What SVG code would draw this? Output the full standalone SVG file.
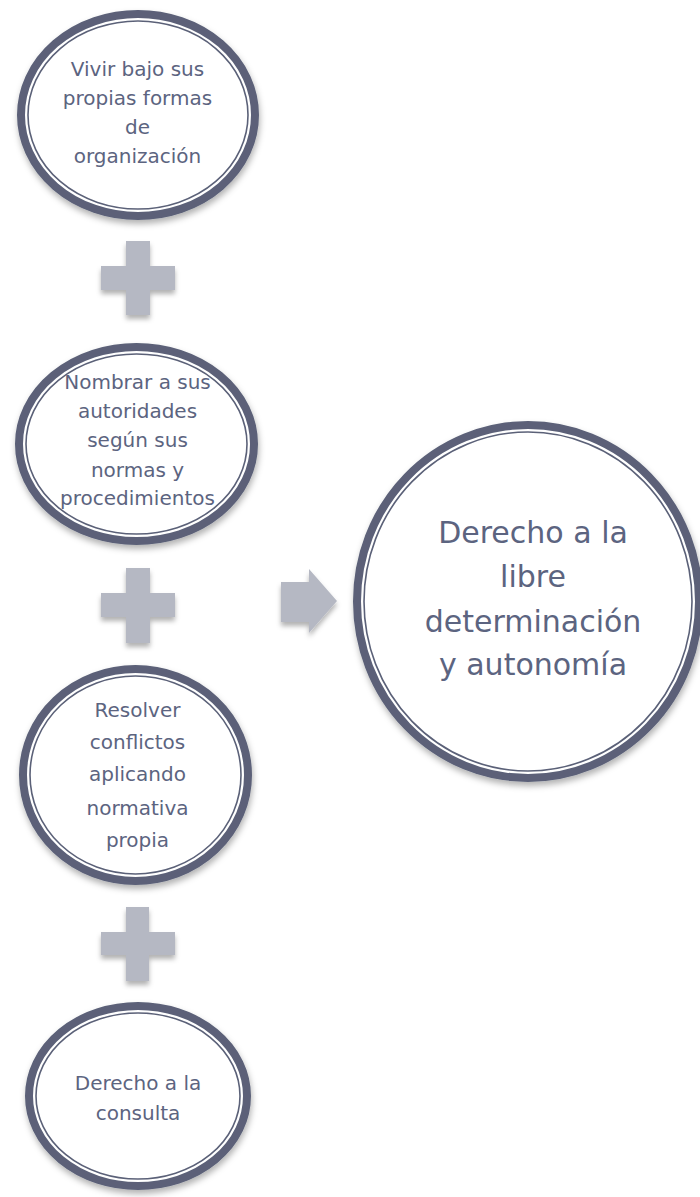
<svg xmlns="http://www.w3.org/2000/svg" width="700" height="1197" viewBox="0 0 700 1197">
<defs>
<filter id="sh" x="-20%" y="-20%" width="140%" height="150%">
<feDropShadow dx="1" dy="4" stdDeviation="3" flood-color="#000" flood-opacity="0.3"/>
</filter>
<filter id="sh2" x="-30%" y="-30%" width="160%" height="160%">
<feDropShadow dx="0" dy="4" stdDeviation="2.5" flood-color="#000" flood-opacity="0.3"/>
</filter>
</defs>
<style>
.ring{fill:#ffffff;stroke:#5b6178;stroke-width:8}
.inner{fill:#ffffff;stroke:#5b6178;stroke-width:1.6}
.t{font-family:"DejaVu Sans",Verdana,sans-serif;font-size:20px;fill:#5c6480;text-anchor:middle}
.tb{font-family:"DejaVu Sans",Verdana,sans-serif;font-size:30px;fill:#5c6480;text-anchor:middle}
.plus{fill:#b5b8c3}
</style>
<rect width="700" height="1197" fill="#ffffff"/>

<g id="connectors">
<path class="plus" filter="url(#sh2)" d="M126,241H150V266H175V290H150V315H126V290H101V266H126Z"/>
<path class="plus" filter="url(#sh2)" d="M126,568H150V593H175V617H150V643H126V617H101V593H126Z"/>
<path class="plus" filter="url(#sh2)" d="M126,907H149V932H175V955H149V981H126V955H101V932H126Z"/>
<path class="plus" filter="url(#sh2)" d="M281,582H309V569L337,601L309,633V622H281Z"/>
</g>

<g id="node1">
<ellipse class="ring" filter="url(#sh)" cx="138" cy="115" rx="117" ry="101"/>
<ellipse class="inner" cx="138" cy="115" rx="110" ry="94"/>
<text class="t" x="137.5" y="76">Vivir bajo sus</text>
<text class="t" x="137.5" y="105">propias formas</text>
<text class="t" x="137.5" y="134">de</text>
<text class="t" x="137.5" y="163">organización</text>
</g>

<g id="node2">
<ellipse class="ring" filter="url(#sh)" cx="136.5" cy="444" rx="117.5" ry="97"/>
<ellipse class="inner" cx="136.5" cy="444" rx="110.5" ry="90"/>
<text class="t" x="137.5" y="389">Nombrar a sus</text>
<text class="t" x="137.5" y="418">autoridades</text>
<text class="t" x="137.5" y="447">según sus</text>
<text class="t" x="137.5" y="477">normas y</text>
<text class="t" x="137.5" y="505">procedimientos</text>
</g>

<g id="node3">
<ellipse class="ring" filter="url(#sh)" cx="135.5" cy="775" rx="112.5" ry="106"/>
<ellipse class="inner" cx="135.5" cy="775" rx="105.5" ry="99"/>
<text class="t" x="137.5" y="717">Resolver</text>
<text class="t" x="137.5" y="749">conflictos</text>
<text class="t" x="137.5" y="781">aplicando</text>
<text class="t" x="137.5" y="815">normativa</text>
<text class="t" x="137.5" y="847">propia</text>
</g>

<g id="node4">
<ellipse class="ring" filter="url(#sh)" cx="138" cy="1096" rx="109" ry="90"/>
<ellipse class="inner" cx="138" cy="1096" rx="102" ry="83"/>
<text class="t" x="138" y="1090">Derecho a la</text>
<text class="t" x="138" y="1120">consulta</text>
</g>

<g id="node5">
<ellipse class="ring" filter="url(#sh)" cx="528" cy="601.5" rx="171" ry="176.5"/>
<ellipse class="inner" cx="528" cy="601.5" rx="164" ry="169.5"/>
<text class="tb" x="533" y="543">Derecho a la</text>
<text class="tb" x="533" y="587">libre</text>
<text class="tb" x="533" y="632">determinación</text>
<text class="tb" x="533" y="675">y autonomía</text>
</g>
</svg>
